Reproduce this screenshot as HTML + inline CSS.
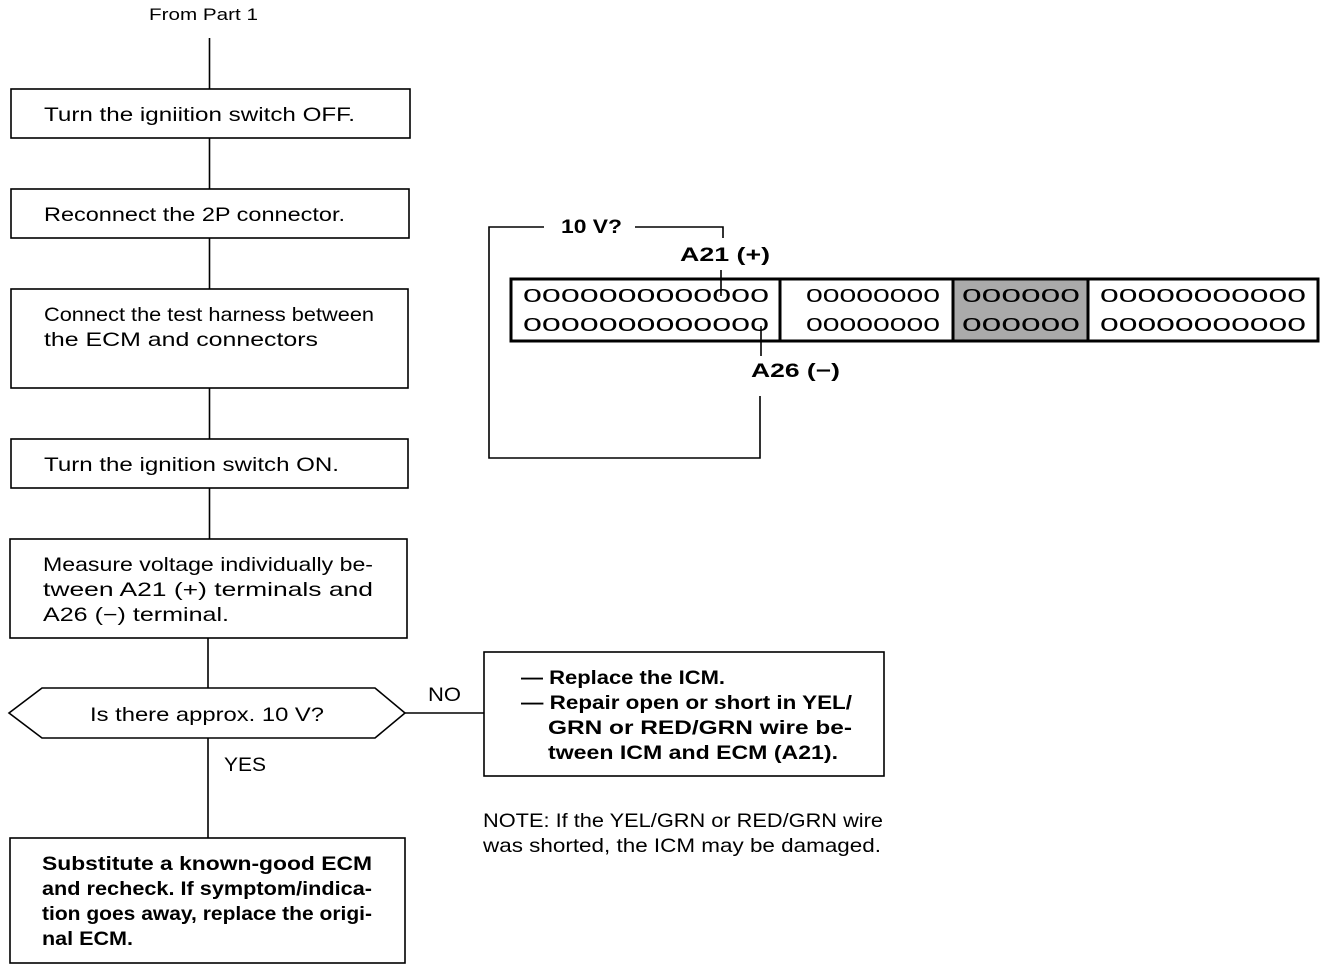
<!DOCTYPE html>
<html><head><meta charset="utf-8"><style>
html,body{margin:0;padding:0;background:#fff;}
svg{display:block;}
text{font-family:"Liberation Sans",Arial,sans-serif;fill:#000;}
.t{font-size:19.5px;}
.b{font-size:19.5px;font-weight:bold;}
.z{font-size:18px;}
</style></head><body>
<svg width="1344" height="970" viewBox="0 0 1344 970" xmlns="http://www.w3.org/2000/svg">
<g stroke="#000" fill="none" stroke-width="1.6">
<line x1="209.5" y1="38" x2="209.5" y2="89"/>
<line x1="209.5" y1="138" x2="209.5" y2="189"/>
<line x1="209.5" y1="238" x2="209.5" y2="289"/>
<line x1="209.5" y1="388" x2="209.5" y2="439"/>
<line x1="209.5" y1="488" x2="209.5" y2="539"/>
<line x1="208" y1="638" x2="208" y2="688"/>
<line x1="208" y1="738" x2="208" y2="838"/>
<line x1="405" y1="713" x2="484" y2="713"/>
<rect x="11" y="89" width="399" height="49"/>
<rect x="11" y="189" width="398" height="49"/>
<rect x="11" y="289" width="397" height="99"/>
<rect x="11" y="439" width="397" height="49"/>
<rect x="10" y="539" width="397" height="99"/>
<polygon points="9,713 42,688 375,688 405,713 375,738 42,738"/>
<rect x="10" y="838" width="395" height="125"/>
<rect x="484" y="652" width="400" height="124"/>
<polyline points="544,227 489,227 489,458 760,458 760,396"/>
<polyline points="635,227 723,227 723,238"/>
<line x1="721" y1="270" x2="721" y2="296"/>
<line x1="761" y1="326" x2="761" y2="356"/>
</g>
<rect x="953" y="280" width="135" height="60" fill="#aaa"/>
<g stroke="#000" fill="none" stroke-width="3">
<rect x="511" y="279" width="807" height="62"/>
<line x1="780" y1="279" x2="780" y2="341"/>
<line x1="953" y1="279" x2="953" y2="341"/>
<line x1="1088" y1="279" x2="1088" y2="341"/>
</g>
<text x="149" y="20" style="font-size:17px" textLength="109" lengthAdjust="spacingAndGlyphs">From Part 1</text>
<text class="t" x="44" y="121" textLength="311" lengthAdjust="spacingAndGlyphs">Turn the igniition switch OFF.</text>
<text class="t" x="44" y="221" textLength="301" lengthAdjust="spacingAndGlyphs">Reconnect the 2P connector.</text>
<text class="t" x="44" y="321" textLength="330" lengthAdjust="spacingAndGlyphs">Connect the test harness between</text>
<text class="t" x="44" y="346" textLength="274" lengthAdjust="spacingAndGlyphs">the ECM and connectors</text>
<text class="t" x="44" y="471" textLength="295" lengthAdjust="spacingAndGlyphs">Turn the ignition switch ON.</text>
<text class="t" x="43" y="571" textLength="330" lengthAdjust="spacingAndGlyphs">Measure voltage individually be-</text>
<text class="t" x="43" y="596" textLength="330" lengthAdjust="spacingAndGlyphs">tween A21 (+) terminals and</text>
<text class="t" x="43" y="621" textLength="186" lengthAdjust="spacingAndGlyphs">A26 (−) terminal.</text>
<text class="t" x="90" y="721" textLength="234" lengthAdjust="spacingAndGlyphs">Is there approx. 10 V?</text>
<text class="t" x="428" y="701" textLength="33" lengthAdjust="spacingAndGlyphs">NO</text>
<text class="t" x="224" y="771" textLength="42" lengthAdjust="spacingAndGlyphs">YES</text>
<text class="b" x="42" y="870" textLength="330" lengthAdjust="spacingAndGlyphs">Substitute a known-good ECM</text>
<text class="b" x="42" y="895" textLength="330" lengthAdjust="spacingAndGlyphs">and recheck. If symptom/indica-</text>
<text class="b" x="42" y="920" textLength="330" lengthAdjust="spacingAndGlyphs">tion goes away, replace the origi-</text>
<text class="b" x="42" y="945" textLength="91" lengthAdjust="spacingAndGlyphs">nal ECM.</text>
<text class="b" x="521" y="684" textLength="204" lengthAdjust="spacingAndGlyphs">— Replace the ICM.</text>
<text class="b" x="521" y="709" textLength="331" lengthAdjust="spacingAndGlyphs">— Repair open or short in YEL/</text>
<text class="b" x="548" y="734" textLength="304" lengthAdjust="spacingAndGlyphs">GRN or RED/GRN wire be-</text>
<text class="b" x="548" y="759" textLength="290" lengthAdjust="spacingAndGlyphs">tween ICM and ECM (A21).</text>
<text class="t" x="483" y="827" textLength="400" lengthAdjust="spacingAndGlyphs">NOTE: If the YEL/GRN or RED/GRN wire</text>
<text class="t" x="483" y="852" textLength="398" lengthAdjust="spacingAndGlyphs">was shorted, the ICM may be damaged.</text>
<text class="b" x="561" y="233" textLength="61" lengthAdjust="spacingAndGlyphs">10 V?</text>
<text class="b" x="680" y="261" textLength="90" lengthAdjust="spacingAndGlyphs">A21 (+)</text>
<text class="b" x="751" y="377" textLength="89" lengthAdjust="spacingAndGlyphs">A26 (−)</text>
<text class="z" x="523" y="302" textLength="246" lengthAdjust="spacingAndGlyphs">0000000000000</text>
<text class="z" x="523" y="331" textLength="246" lengthAdjust="spacingAndGlyphs">0000000000000</text>
<text class="z" x="806" y="302" textLength="134" lengthAdjust="spacingAndGlyphs">00000000</text>
<text class="z" x="806" y="331" textLength="134" lengthAdjust="spacingAndGlyphs">00000000</text>
<text class="z" x="962" y="302" textLength="118" lengthAdjust="spacingAndGlyphs">000000</text>
<text class="z" x="962" y="331" textLength="118" lengthAdjust="spacingAndGlyphs">000000</text>
<text class="z" x="1100" y="302" textLength="206" lengthAdjust="spacingAndGlyphs">00000000000</text>
<text class="z" x="1100" y="331" textLength="206" lengthAdjust="spacingAndGlyphs">00000000000</text>
</svg>
</body></html>
